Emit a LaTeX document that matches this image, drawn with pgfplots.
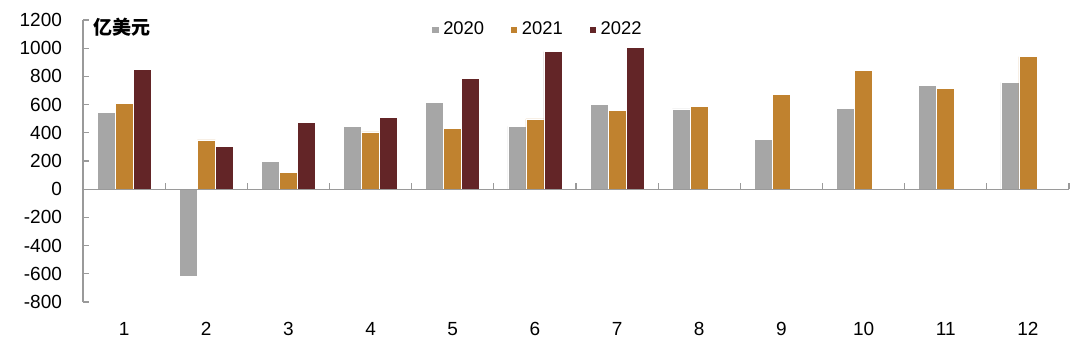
\documentclass[border=0pt]{standalone}
\usepackage{fontspec}
\setmainfont{Liberation Sans}
\newfontfamily\cjk{Noto Sans CJK SC}
\usepackage{pgfplots}
\pgfplotsset{compat=1.18}
\definecolor{cA}{HTML}{A6A6A6}
\definecolor{cB}{HTML}{C0822F}
\definecolor{cC}{HTML}{632527}
\definecolor{axc}{HTML}{9A9A9A}
\begin{document}
\begin{tikzpicture}
\useasboundingbox (-41.5pt,-22.5pt) rectangle (498.5pt,151pt);
\begin{axis}[
  scale only axis, width=493pt, height=141pt,
  xmin=0.5, xmax=12.5, ymin=-800, ymax=1200,
  ybar=0pt, bar width=9pt,
  axis y line*=left, axis x line*=bottom,
  x axis line style={draw=none},
  y axis line style={axc, line width=0.6pt},
  xtick={1,...,12}, major x tick style={draw=none},
  ytick={-800,-600,...,1200},
  ytick align=inside, major tick length=3pt,
  y tick style={axc, line width=0.6pt},
  /pgf/number format/assume math mode=true,
  /pgf/number format/1000 sep={},
  tick label style={font=\fontsize{9.5}{11}\selectfont},
  yticklabel style={xshift=-7pt},
  xticklabel style={yshift=-3.5pt},
  legend columns=3,
  legend style={at={(0.353,0.965)}, anchor=west, draw=none, fill=none,
    font=\fontsize{9.2}{11}\selectfont, inner sep=0pt,
    /tikz/every even column/.append style={column sep=11pt}},
  legend image code/.code={\fill[#1] (0pt,-1.8pt) rectangle (3.6pt,1.8pt);},
  clip=false,
]
\addplot[fill=cA, draw=white, line width=0.3pt] coordinates {
 (1,544) (2,-618) (3,196) (4,447) (5,613) (6,445) (7,601) (8,570) (9,353) (10,573) (11,738) (12,757)};
\addplot[fill=cB, draw=white, line width=0.3pt] coordinates {
 (1,611) (2,350) (3,118) (4,407) (5,433) (6,499) (7,559) (8,589) (9,675) (10,845) (11,715) (12,940)};
\addplot[fill=cC, draw=white, line width=0.3pt] coordinates {
 (1,847) (2,303) (3,471) (4,509) (5,786) (6,975) (7,1008)};
\legend{2020,2021,2022}
\draw[axc, line width=0.6pt] (axis cs:0.5,0) -- (axis cs:12.5,0);
\pgfplotsinvokeforeach{0.5,1.5,2.5,3.5,4.5,5.5,6.5,7.5,8.5,9.5,10.5,11.5,12.5}{
  \draw[axc, line width=0.6pt] (axis cs:#1,0) -- (axis cs:#1,45);
}
\node[anchor=west, inner sep=0pt, font=\cjk\bfseries\fontsize{9.5}{11}\selectfont] at (rel axis cs:0.0101,0.975) {亿美元};
\end{axis}
\end{tikzpicture}
\end{document}
